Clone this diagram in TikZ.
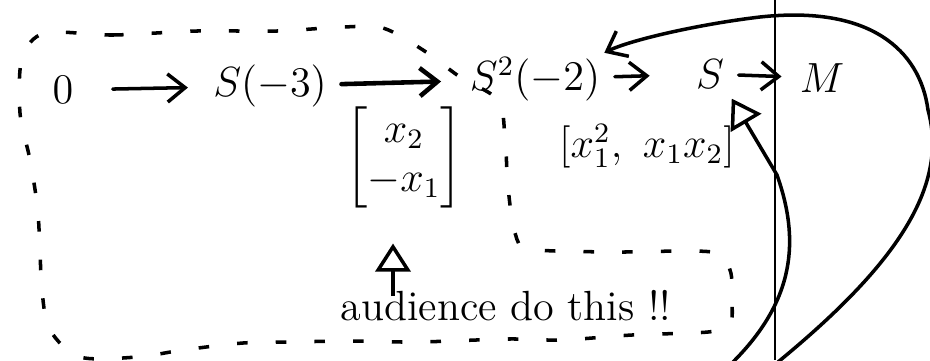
\documentclass[tikz,border=0pt]{standalone}
\usepackage{amsmath}
\usetikzlibrary{arrows.meta, positioning}

\begin{document}
\begin{tikzpicture}[
    x=0.01cm, y=-0.01cm,
    font=\large,
    >={Straight Barb[length=5pt, width=8pt]},
    module/.style={inner sep=1pt},
    vec/.style={inner sep=0pt},
    arrow/.style={->, line width=1pt, line cap=round},
    hollow/.style={-{Triangle[open, length=8pt, width=10pt]}, line width=1pt},
    region/.style={dash pattern=on 3pt off 8pt, line width=1pt},
    edge/.style={line width=0.4pt}
  ]
    \useasboundingbox (0,0) rectangle (930,360);
    % the resolution
    \node[module] (zero) at (63,90) {$0$};
    \node[module] (s3) at (270,86) {$S(-3)$};
    \node[module] (s2) at (535,79) {$S^{2}(-2)$};
    \node[module] (s) at (710,74) {$S$};
    \node[module] (m) at (822,78) {$M$};
    % the maps
    \node[vec] (mat1) at (404,157) {$\begin{bmatrix} x_2\\ -x_1 \end{bmatrix}$};
    \node[vec] (mat2) at (647,146) {$[x_1^2,\ x_1x_2]$};
    \node (note) at (506,306) {audience do this !!};
    \coordinate (cue) at (393,296);
    \coordinate (footA) at (778,362);
    \coordinate (footB) at (733,362);
    \coordinate (edgetop) at (775,0);
    \coordinate (edgebot) at (775,360);
    \draw[arrow, shorten <=10pt, shorten >=6pt] (zero) -- (s3);
    \draw[arrow, line width=1.3pt, shorten <=3pt, shorten >=7pt] (s3) -- (s2);
    \draw[arrow, shorten <=3pt, shorten >=12pt] (s2) -- (s);
    \draw[arrow, shorten <=3pt, shorten >=4pt] (s) -- (m);
    \draw[hollow, shorten >=10pt] (cue) -- (cue |- mat1.south);
    \draw[arrow] (footA) .. controls (890,270) and (950,190) .. (928,110)
        .. controls (920,50) and (870,5) .. (760,17)
        .. controls (700,24) and (630,40) .. (s2.north east);
    \draw[hollow, shorten >=2pt] (footB) .. controls (795,300) and (800,240) .. (777,175)
        -- (s.south east);
    % what the audience works out
    \draw[region] plot[smooth cycle] coordinates {
        (45,33) (113,35) (197,31) (277,31) (343,27) (383,28) (423,50)
        (460,77) (498,100) (505,137) (508,187) (515,233) (530,249)
        (612,252) (712,252) (730,270) (732,300) (730,325) (708,332)
        (632,335) (562,340) (508,339) (417,342) (347,341) (293,342)
        (243,343) (183,350) (137,357) (80,357) (50,330) (42,290)
        (38,213) (30,160) (20,113) (22,58)};
    \draw[edge] (edgetop) -- (edgebot);
  \end{tikzpicture}
\end{document}
